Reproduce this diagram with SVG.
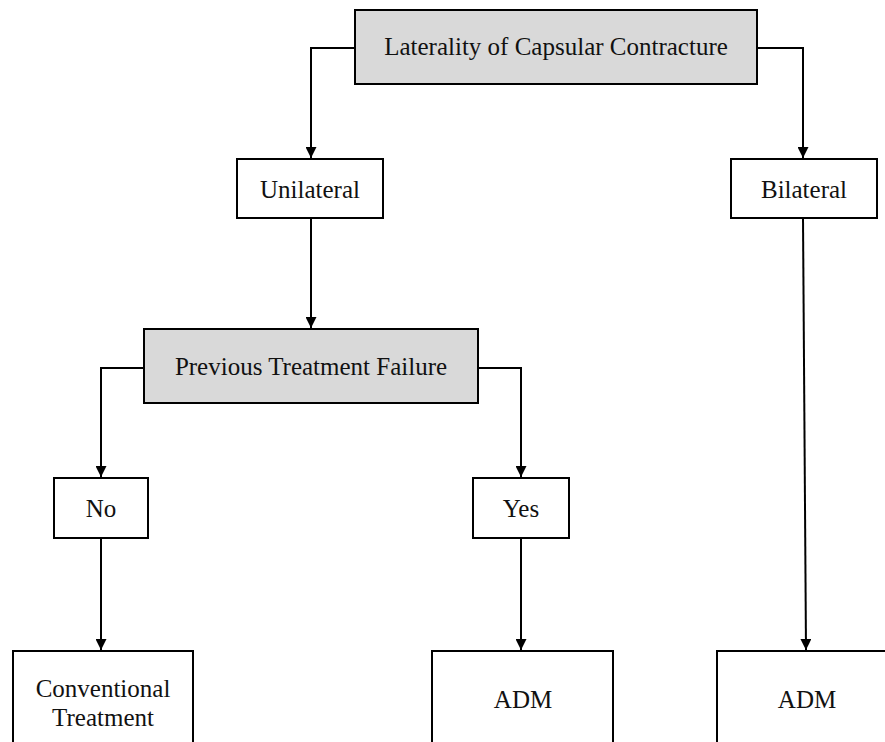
<svg xmlns="http://www.w3.org/2000/svg" width="885" height="742" viewBox="0 0 885 742">
<style>
.box{fill:#ffffff;stroke:#000;stroke-width:2}
.gray{fill:#d9d9d9;stroke:#000;stroke-width:2}
.t{font-family:"Liberation Serif","Times New Roman","DejaVu Serif",serif;font-size:25px;fill:#111;text-anchor:middle}
.c{fill:none;stroke:#000;stroke-width:2}
</style>
<defs>
<marker id="ah" viewBox="0 0 10 10" refX="10" refY="5" markerWidth="12" markerHeight="11" markerUnits="userSpaceOnUse" orient="auto">
<path d="M0,0 L10,5 L0,10 z" fill="#000"/>
</marker>
</defs>
<rect width="885" height="742" fill="#fff"/>
<g id="connectors">
<polyline class="c" points="355,48 311,48 311,158" marker-end="url(#ah)"/>
<polyline class="c" points="757,48 803,48 803,158" marker-end="url(#ah)"/>
<line class="c" x1="311" y1="218" x2="311" y2="328" marker-end="url(#ah)"/>
<polyline class="c" points="144,368 101,368 101,477" marker-end="url(#ah)"/>
<polyline class="c" points="478,368 521,368 521,477" marker-end="url(#ah)"/>
<line class="c" x1="101" y1="538" x2="101" y2="650" marker-end="url(#ah)"/>
<line class="c" x1="521" y1="538" x2="521" y2="650" marker-end="url(#ah)"/>
<line class="c" x1="803" y1="218" x2="806" y2="650" marker-end="url(#ah)"/>
</g>
<g id="laterality">
<rect class="gray" x="355" y="10" width="402" height="74"/>
<text class="t" x="556" y="55">Laterality of Capsular Contracture</text>
</g>
<g id="unilateral">
<rect class="box" x="237" y="159" width="146" height="59"/>
<text class="t" x="310" y="198">Unilateral</text>
</g>
<g id="bilateral">
<rect class="box" x="731" y="159" width="146" height="59"/>
<text class="t" x="804" y="198">Bilateral</text>
</g>
<g id="previous">
<rect class="gray" x="144" y="329" width="334" height="74"/>
<text class="t" x="311" y="375">Previous Treatment Failure</text>
</g>
<g id="no">
<rect class="box" x="54" y="478" width="94" height="60"/>
<text class="t" x="101" y="517">No</text>
</g>
<g id="yes">
<rect class="box" x="473" y="478" width="96" height="60"/>
<text class="t" x="521" y="517">Yes</text>
</g>
<g id="conventional">
<rect class="box" x="13" y="651" width="180" height="100"/>
<text class="t" x="103" y="697">Conventional</text>
<text class="t" x="103" y="726">Treatment</text>
</g>
<g id="adm1">
<rect class="box" x="432" y="651" width="181" height="100"/>
<text class="t" x="523" y="708">ADM</text>
</g>
<g id="adm2">
<rect class="box" x="717" y="651" width="180" height="100"/>
<text class="t" x="807" y="708">ADM</text>
</g>
</svg>
